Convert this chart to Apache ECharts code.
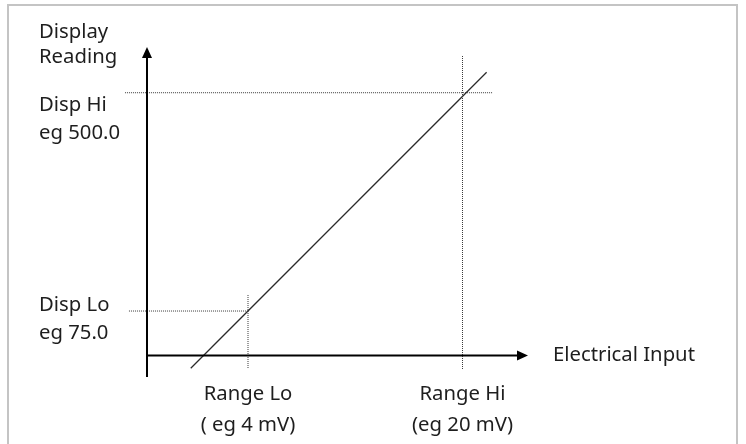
<!DOCTYPE html>
<html><head><meta charset="utf-8">
<script src="https://cdn.jsdelivr.net/npm/echarts@6/dist/echarts.min.js"></script>
<style>html,body{margin:0;padding:0;background:#fff}</style>
</head><body>
<div id="c" style="width:746px;height:444px"></div>
<script>
// ---- data ----
const rangeValues = [4, 20];                       // electrical input, mV
const rangeLabels = ['Range Lo\n( eg 4 mV)', 'Range Hi\n(eg 20 mV)'];
const dispValues = [75, 500];                      // display reading
const dispLabels = [['Disp Lo', 'eg 75.0'], ['Disp Hi', 'eg 500.0']];
const responseX = [-0.27, 21.8];                   // straight response line endpoints (mV)
const responseY = [-36.5, 539.8];                  // display reading at those inputs
const xAxisName = 'Electrical Input';
const yAxisName = ['Display', 'Reading'];

// ---- layout ----
const FONT = '"Noto Sans", sans-serif';
const FS = 20.3;
const TXT = '#1e1e1e';
const X_MIN = -5.548, X_MAX = 24.476;   // grid spans a bit left of the drawn vertical axis
const Y_MIN = -11.6, Y_MAX = 578.3;
const AXIS_X = -3.534;                  // where the vertical axis is drawn
const AXIS_Y = Y_MIN;                   // where the horizontal axis is drawn
// guide extents (data units)
const dispGuideFrom = [-4.88, -5.17];
const dispGuideTo = [rangeValues[0], 22.27];
const rangeGuideFrom = [106.2, 571.5];
const rangeGuideTo = [-35.9, -37.9];
const yAxisBottom = -53.5;

const dotted = { color: '#3a3a3a', width: 1, type: [1, 1] };
const axisStyle = { color: '#000', width: 2 };
const arrowHead = (value, rotate) => ({
  value: value, symbol: 'triangle', symbolSize: [10, 11], symbolRotate: rotate
});
const series = [];
dispValues.forEach((v, i) => series.push({
  type: 'line', data: [[dispGuideFrom[i], v], [dispGuideTo[i], v]],
  symbol: 'none', clip: false, silent: true, lineStyle: dotted, z: 2
}));
rangeValues.forEach((v, i) => series.push({
  type: 'line', data: [[v, rangeGuideFrom[i]], [v, rangeGuideTo[i]]],
  symbol: 'none', clip: false, silent: true, lineStyle: dotted, z: 2
}));
series.push({
  type: 'line', data: responseX.map((x, i) => [x, responseY[i]]),
  symbol: 'none', clip: false, silent: true,
  lineStyle: { color: '#2a2a2a', width: 1.3 }, z: 3
});
// axes with arrow heads
series.push({
  type: 'line', clip: false, silent: true, showSymbol: true, z: 4,
  data: [{ value: [AXIS_X, yAxisBottom], symbol: 'none' }, arrowHead([AXIS_X, Y_MAX], 0)],
  lineStyle: axisStyle, itemStyle: { color: '#000', borderWidth: 0 }
});
series.push({
  type: 'line', clip: false, silent: true, showSymbol: true, z: 4,
  data: [{ value: [AXIS_X, AXIS_Y], symbol: 'none' }, arrowHead([X_MAX, AXIS_Y], -90)],
  lineStyle: axisStyle, itemStyle: { color: '#000', borderWidth: 0 }
});

const graphic = [
  { type: 'rect', shape: { x: 8, y: 5, width: 729, height: 460 },
    style: { fill: 'none', stroke: '#c4c4c4', lineWidth: 2 }, silent: true },
];
const textEl = (text, x, y) => ({
  type: 'text', x: x, y: y, silent: true,
  style: { text: text, fill: TXT, font: FS + 'px ' + FONT, textAlign: 'left', textVerticalAlign: 'middle' }
});
graphic.push(textEl(yAxisName[0], 39, 32.5));
graphic.push(textEl(yAxisName[1], 39, 57.5));
const dispRows = [[305, 333.5], [105, 133.5]];
dispLabels.forEach((lab, i) => {
  graphic.push(textEl(lab[0], 39, dispRows[i][0]));
  graphic.push(textEl(lab[1], 39, dispRows[i][1]));
});

const chart = echarts.init(document.getElementById('c'), null, { renderer: 'canvas' });
chart.setOption({
  animation: false,
  backgroundColor: '#fff',
  grid: { left: 120, top: 52.5, right: 223.5, bottom: 88.5, containLabel: false },
  xAxis: {
    type: 'value', min: X_MIN, max: X_MAX,
    name: xAxisName, nameLocation: 'end', nameGap: 30.5,
    nameTextStyle: { color: TXT, fontFamily: FONT, fontSize: FS, verticalAlign: 'middle', align: 'left' },
    axisLine: { show: false, onZero: false },
    axisTick: { show: false },
    splitLine: { show: false },
    axisLabel: {
      show: true, customValues: rangeValues, margin: 23,
      formatter: (v) => rangeLabels[rangeValues.indexOf(v)] || '',
      color: TXT, fontFamily: FONT, fontSize: FS, lineHeight: 31, align: 'center'
    }
  },
  yAxis: {
    type: 'value', min: Y_MIN, max: Y_MAX,
    axisLine: { show: false, onZero: false },
    axisTick: { show: false },
    splitLine: { show: false },
    axisLabel: { show: false }
  },
  series: series,
  graphic: graphic
});
</script></body></html>
